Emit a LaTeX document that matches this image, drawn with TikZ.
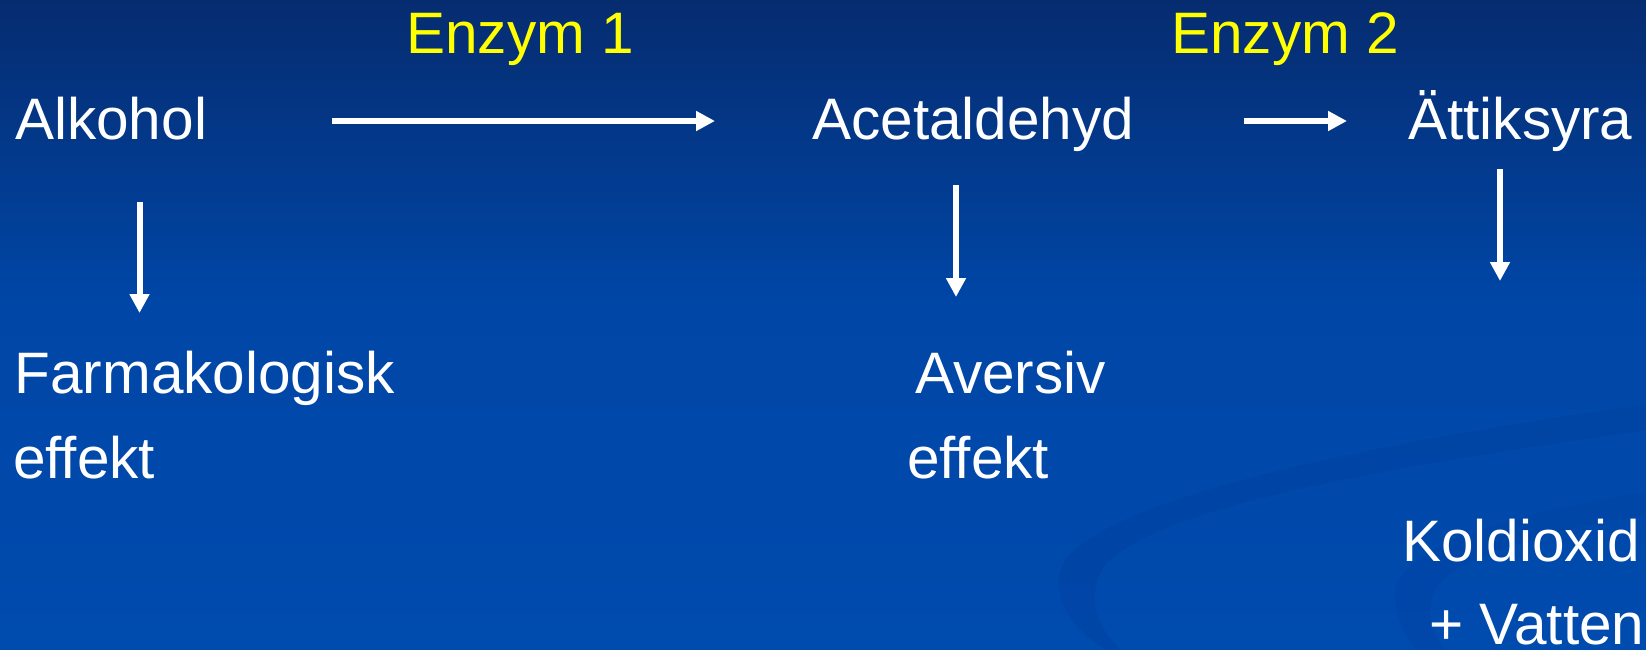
\documentclass[tikz,border=0pt]{standalone}
\usepackage{fontspec}
\setmainfont{Liberation Sans}
\usetikzlibrary{arrows.meta}
\definecolor{bgtop}{HTML}{062C70}
\definecolor{bgmid}{HTML}{0046A6}
\definecolor{bgbot}{HTML}{004BAE}
\definecolor{swoosh}{HTML}{0040A0}
\definecolor{enzym}{HTML}{FFFF00}
\begin{document}
\begin{tikzpicture}[x=1pt,y=-1pt,
  lbl/.style={anchor=base west, inner sep=0pt, text=white, font=\fontsize{58.5}{70}\selectfont},
  enz/.style={lbl, text=enzym},
  flow/.style={draw=white, line width=6pt, -{Triangle[length=19pt,width=19pt]}},
  band/.style={fill=swoosh, draw=none, opacity=0.45}]
\useasboundingbox (0,0) rectangle (1646,649);
% background
\shade[top color=bgtop, bottom color=bgmid] (0,0) rectangle (1646,300);
\shade[top color=bgmid, bottom color=bgbot] (0,299.5) rectangle (1646,649);
% swooshes
\path[band] (1646,405) .. controls (1350,445) and (1110,500) .. (1065,560)
  .. controls (1045,595) and (1075,630) .. (1105,649) -- (1120,649)
  .. controls (1095,625) and (1085,595) .. (1105,565)
  .. controls (1160,505) and (1400,465) .. (1646,430) -- cycle;
\path[band, opacity=0.3] (1646,492) .. controls (1500,515) and (1390,550) .. (1395,600)
  .. controls (1398,620) and (1405,635) .. (1415,649) -- (1445,649)
  .. controls (1430,630) and (1425,610) .. (1435,590)
  .. controls (1455,555) and (1550,530) .. (1646,515) -- cycle;
% labels
\node[enz] (e1) at (406,53) {Enzym 1};
\node[enz] (e2) at (1171,53) {Enzym 2};
\node[lbl] (alk) at (15,139) {Alkohol};
\node[lbl] (ace) at (812,139) {Acetaldehyd};
\node[lbl] (att) at (1408,139) {Ättiksyra};
\node[lbl] (farm) at (14.5,393) {Farmakologisk};
\node[lbl] (farme) at (13,478) {effekt};
\node[lbl] (av) at (915,393) {Aversiv};
\node[lbl] (ave) at (907,478) {effekt};
\node[lbl] (kol) at (1402,561) {Koldioxid};
\node[lbl] (vat) at (1429,644) {+ Vatten};
% arrow end points
\coordinate (a1s) at (332,121);
\coordinate (a1e) at (715,121);
\coordinate (a2s) at (1244,121);
\coordinate (a2e) at (1347,121);
\coordinate (d1s) at (139.5,202);
\coordinate (d1e) at (139.5,313);
\coordinate (d2s) at (956,185);
\coordinate (d2e) at (956,297);
\coordinate (d3s) at (1500,169);
\coordinate (d3e) at (1500,281);
% connectors
\draw[flow] (a1s) -- (a1e);
\draw[flow] (a2s) -- (a2e);
\draw[flow] (d1s) -- (d1e);
\draw[flow] (d2s) -- (d2e);
\draw[flow] (d3s) -- (d3e);
\end{tikzpicture}
\end{document}
